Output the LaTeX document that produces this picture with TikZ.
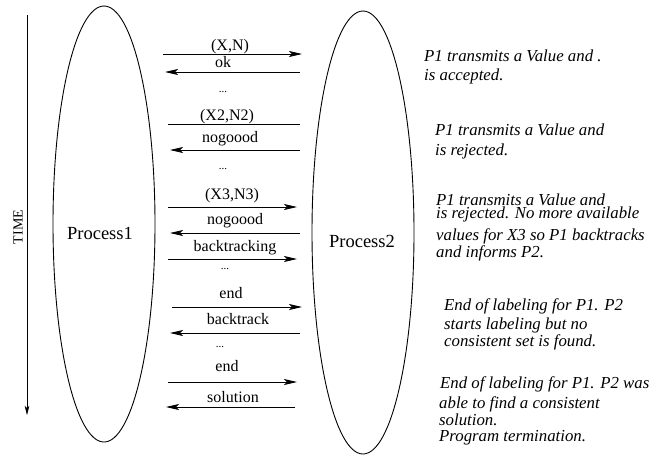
\documentclass[tikz,border=0pt]{standalone}
\usepackage{fontspec}
\setmainfont{Liberation Serif}
\usetikzlibrary{arrows.meta,shapes.geometric}
\begin{document}
\begin{tikzpicture}[x=1pt,y=-1pt,
  proc/.style={draw,ellipse,line width=0.9pt,inner sep=0pt},
  ptxt/.style={font=\fontsize{18.5}{20}\selectfont},
  lbl/.style={font=\fontsize{16}{18}\selectfont,inner sep=0pt,text height=11pt,text depth=3pt},
  dots/.style={font=\fontsize{11}{12}\selectfont,inner sep=0pt},
  note/.style={font=\fontsize{16.8}{18}\selectfont\itshape,anchor=west,inner sep=0pt,text height=9pt,text depth=2pt},
  msg/.style={line width=0.8pt,-{Stealth[length=13pt,width=6pt,inset=3pt]}},
  plain/.style={line width=0.8pt}]
\useasboundingbox (0,0) rectangle (652,456);
% processes
\node[proc,minimum width=102pt,minimum height=436pt] (p1) at (104,224) {};
\node[proc,minimum width=102pt,minimum height=443pt] (p2) at (363,232.5) {};
\node[ptxt] (p1t) at (100,233) {Process1};
\node[ptxt] (p2t) at (362,241) {Process2};
% time axis
\coordinate (t0) at (27,15);
\coordinate (t1) at (27,415);
\draw[line width=0.7pt,-{Stealth[length=9pt,width=4.5pt,inset=2pt]}] (t0) -- (t1);
\node[font=\fontsize{14}{16}\selectfont,rotate=90,inner sep=0pt] (time) at (18,227) {TIME};
% message ends
\coordinate (a1s) at (163,54);  \coordinate (a1e) at (302,54);
\coordinate (a2s) at (300,72);  \coordinate (a2e) at (165,72);
\coordinate (a3s) at (168,124); \coordinate (a3e) at (300,124);
\coordinate (a4s) at (300,150); \coordinate (a4e) at (170,150);
\coordinate (a5s) at (168,207); \coordinate (a5e) at (297,207);
\coordinate (a6s) at (300,233); \coordinate (a6e) at (170,233);
\coordinate (a7s) at (168,259); \coordinate (a7e) at (297,259);
\coordinate (a8s) at (172,307); \coordinate (a8e) at (302,307);
\coordinate (a9s) at (300,333); \coordinate (a9e) at (170,333);
\coordinate (a10s) at (168,382); \coordinate (a10e) at (297,382);
\coordinate (a11s) at (295,407); \coordinate (a11e) at (166,407);
\draw[msg] (a1s) -- (a1e);
\draw[msg] (a2s) -- (a2e);
\draw[plain] (a3s) -- (a3e);
\draw[msg] (a4s) -- (a4e);
\draw[msg] (a5s) -- (a5e);
\draw[msg] (a6s) -- (a6e);
\draw[msg] (a7s) -- (a7e);
\draw[msg] (a8s) -- (a8e);
\draw[msg] (a9s) -- (a9e);
\draw[msg] (a10s) -- (a10e);
\draw[msg] (a11s) -- (a11e);
% message labels
\node[lbl] (l1) at (230,46) {(X,N)};
\node[lbl] (l2) at (223,63) {ok};
\node[dots] (d1) at (223,92) {...};
\node[lbl] (l3) at (227,116) {(X2,N2)};
\node[lbl] (l4) at (230,138) {nogoood};
\node[dots] (d2) at (223,169) {...};
\node[lbl] (l5) at (232,195) {(X3,N3)};
\node[lbl] (l6) at (235,220) {nogoood};
\node[lbl] (l7) at (235,247) {backtracking};
\node[dots] (d3) at (225,269) {...};
\node[lbl] (l8) at (231,294) {end};
\node[lbl] (l9) at (238,320) {backtrack};
\node[dots] (d4) at (220,347) {...};
\node[lbl] (l10) at (227,367) {end};
\node[lbl] (l11) at (233,398) {solution};
% notes
\node[note] (n11) at (424,58) {P1 transmits a Value and .};
\node[note] (n12) at (424,77) {is accepted.};
\node[note] (n21) at (435,132) {P1 transmits a Value and};
\node[note] (n22) at (435,152) {is rejected.};
\node[note] (n31) at (436,202) {P1 transmits a Value and};
\node[note] (n32) at (436,215) {is rejected. No more available};
\node[note] (n33) at (436,237) {values for X3 so P1 backtracks};
\node[note] (n34) at (436,254) {and informs P2.};
\node[note] (n41) at (444,307) {End of labeling for P1. P2};
\node[note] (n42) at (444,326) {starts labeling but no};
\node[note] (n43) at (444,343) {consistent set is found.};
\node[note] (n51) at (440,385) {End of labeling for P1. P2 was};
\node[note] (n52) at (439,405) {able to find a consistent};
\node[note] (n53) at (439,422) {solution.};
\node[note] (n54) at (439,438) {Program termination.};
\end{tikzpicture}
\end{document}
